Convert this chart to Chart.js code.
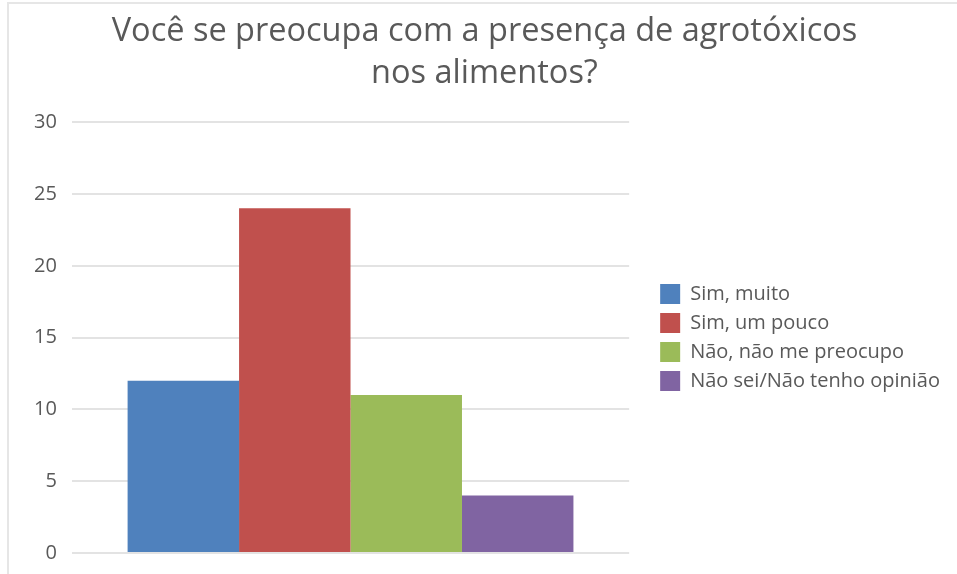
<!DOCTYPE html>
<html>
<head>
<meta charset="utf-8">
<script src="https://cdn.jsdelivr.net/npm/chart.js@4"></script>
<style>
  html, body { margin: 0; padding: 0; background: #ffffff; }
  #wrap { width: 957px; height: 574px; position: relative; }
</style>
</head>
<body>
<div id="wrap"><canvas id="c" width="957" height="574"></canvas></div>
<script>
const titleLines = ["Você se preocupa com a presença de agrotóxicos", "nos alimentos?"];
const categories = [""];
const seriesNames = ["Sim, muito", "Sim, um pouco", "Não, não me preocupo", "Não sei/Não tenho opinião"];
const seriesValues = [12, 24, 11, 4];
const seriesColors = ["#4f81bd", "#c0504d", "#9bbb59", "#8064a2"];
const yTicks = [0, 5, 10, 15, 20, 25, 30];

const frame = {
  id: 'frame',
  beforeDraw(chart) {
    const ctx = chart.ctx;
    ctx.save();
    ctx.fillStyle = '#ffffff';
    ctx.fillRect(0, 0, chart.width, chart.height);
    ctx.strokeStyle = '#e6e6e6';
    ctx.lineWidth = 2;
    ctx.beginPath();
    ctx.moveTo(8, chart.height);
    ctx.lineTo(8, 3);
    ctx.lineTo(chart.width, 3);
    ctx.stroke();
    ctx.restore();
  }
};

new Chart(document.getElementById('c'), {
  type: 'bar',
  data: {
    labels: categories,
    datasets: seriesNames.map((n, i) => ({
      label: n,
      data: [seriesValues[i]],
      backgroundColor: seriesColors[i],
      borderWidth: 0,
      categoryPercentage: 0.8,
      barPercentage: 1.0
    }))
  },
  options: {
    responsive: false,
    animation: false,
    layout: { padding: { left: 19, right: 7, top: 11, bottom: 10 } },
    plugins: {
      title: {
        display: true,
        text: titleLines,
        color: '#595959',
        font: { family: 'Open Sans', size: 32.5, weight: 'normal', lineHeight: 1.28 },
        padding: { top: 0, bottom: 28 }
      },
      legend: {
        position: 'right',
        align: 'center',
        fullSize: false,
        maxWidth: 330,
        labels: {
          boxWidth: 20,
          boxHeight: 20,
          padding: 9,
          color: '#595959',
          font: { family: 'Open Sans', size: 20 }
        }
      },
      tooltip: { enabled: false }
    },
    scales: {
      x: {
        display: false
      },
      y: {
        min: 0, max: 30,
        afterBuildTicks(scale) { scale.ticks = yTicks.map(v => ({ value: v })); },
        afterFit(scale) { scale.paddingBottom = 21; scale.paddingTop = 21; },
        ticks: { color: '#595959', font: { family: 'Open Sans', size: 20 }, padding: 15 },
        grid: { color: '#e3e3e3', lineWidth: 2, drawTicks: false },
        border: { display: false }
      },
      gap: {
        type: 'linear',
        position: 'right',
        display: true,
        ticks: { display: false },
        grid: { display: false },
        border: { display: false },
        afterFit(scale) { scale.width = 22; }
      }
    }
  },
  plugins: [frame]
});
</script>
</body>
</html>
